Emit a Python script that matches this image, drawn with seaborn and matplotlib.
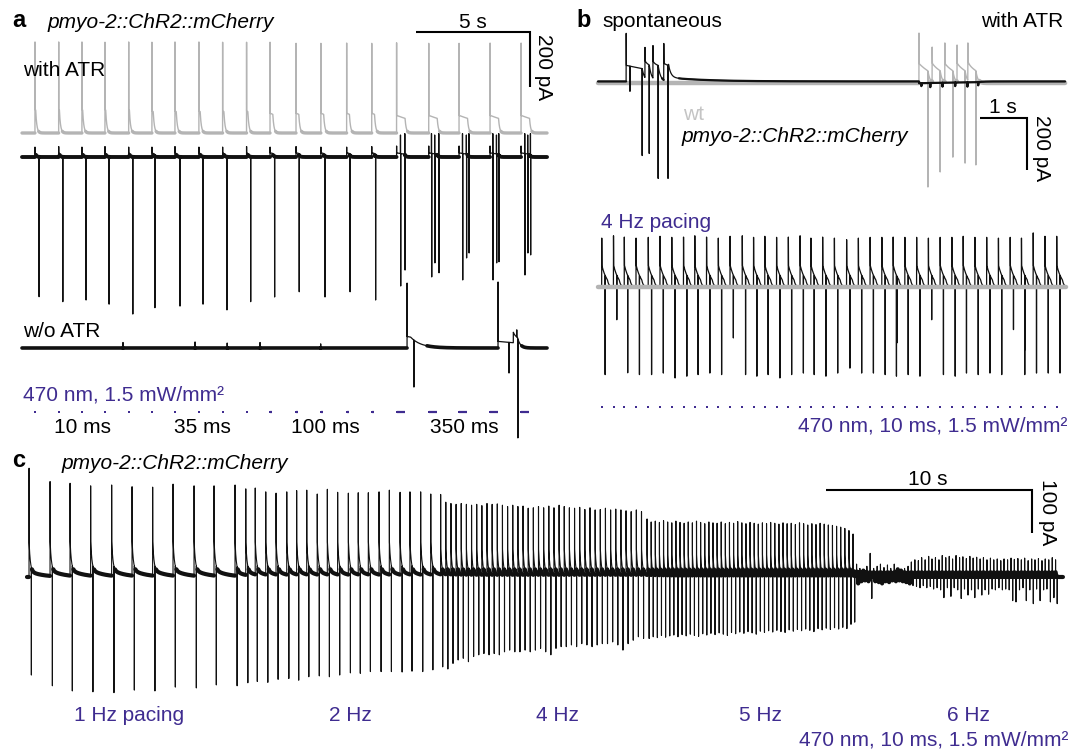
import numpy as np
import matplotlib
matplotlib.use("Agg")
import matplotlib.pyplot as plt
import seaborn as sns

sns.set_theme(style="white")
plt.rcParams["font.family"] = ["Liberation Sans", "DejaVu Sans"]
plt.rcParams["text.color"] = "black"

W, H = 1084, 750
PURPLE = "#3f2c90"
GRAY = "#b4b4b4"
INK = "#111111"
FS = 15

# =================== DATA (time in s, current in pA) ===================
# ---- panel a: 1 Hz light pulses of increasing width ----
a_pulse_t = [0.57, 1.61, 2.63, 3.64, 4.68, 5.70, 6.71, 7.76, 8.80, 9.85,
             10.88, 12.02, 13.11, 14.24, 15.34, 16.43, 17.84, 19.17, 20.53, 21.89]
a_pulse_w = [0.01, 0.01, 0.01, 0.01, 0.01, 0.035, 0.035, 0.035, 0.035, 0.035,
             0.1, 0.1, 0.1, 0.1, 0.1, 0.35, 0.35, 0.35, 0.35, 0.35]
a_group_labels = ["10 ms", "35 ms", "100 ms", "350 ms"]
a_gray_up = [331, 331, 331, 330, 331, 330, 331, 331, 330, 330,
             330, 326, 326, 327, 326, 328, 326, 326, 327, 327]
a_gray_tail = [85, 85, 85, 85, 85, 80, 80, 80, 80, 80,
               72, 72, 72, 72, 72, 64, 64, 64, 64, 64]
a_black_blip = [36, 38, 36, 38, 36, 36, 38, 36, 36, 38,
                36, 38, 36, 36, 38, 40, 40, 40, 40, 40]
a_black_dn_t = [0.75, 1.79, 2.81, 3.82, 4.86, 5.83, 6.93, 7.94, 8.99, 10.03,
                11.08, 12.16, 13.29, 14.39, 15.51, 16.61, 16.80, 17.97, 18.11, 18.29,
                19.33, 19.50, 19.61, 20.66, 20.82, 20.92, 22.06, 22.19, 22.31]
a_black_dn_a = [-508, -526, -520, -535, -571, -548, -542, -535, -556, -526,
                -509, -490, -509, -490, -520, -469, -411, -436, -385, -421,
                -447, -367, -349, -447, -385, -381, -429, -349, -356]
a_black_up_t = [16.60, 16.79, 17.96, 18.10, 18.28, 19.32, 19.49, 19.60,
                20.65, 20.81, 20.91, 22.05, 22.18, 22.30]
a_black_up_a = [80, 85, 85, 80, 85, 85, 80, 85, 85, 80, 85, 85, 80, 85]
a_wo_up_t = [4.43, 7.59, 9.00, 10.44, 13.10, 16.89, 20.88, 21.70]
a_wo_up_a = [20, 22, 18, 20, 15, 236, 240, 66]
a_wo_dn_t = [17.19, 21.36, 21.75]
a_wo_dn_a = [-142, -91, -327]
a_wo_tail_t = [16.89, 20.88, 21.55]
a_wo_tail_a = [42, 24, 38]
a_wo_tail_d = [0.15, 0.67, 0.18]
a_wo_tail_tau = [0.45, 0.10, 0.12]
a_t_end = 23.03

# ---- panel b top: spontaneous burst (black) and light-evoked burst (gray) ----
b_black_up_t = [0.60, 1.00, 1.17, 1.40]
b_black_up_a = [185, 131, 138, 146]
b_black_dn_t = [0.68, 0.94, 1.09, 1.28, 1.49, 6.88, 7.07, 7.33, 7.60, 7.86, 8.09]
b_black_dn_a = [-38, -285, -277, -373, -373, -18, -22, -20, -18, -20, -15]
b_black_tail_t = [0.60, 1.00, 1.17, 1.40, 1.50, 6.83]
b_black_tail_a = [62, 65, 65, 65, 15, -7]
b_black_tail_d = [0.34, 0.09, 0.11, 0.09, 0.0, 1.25]
b_black_tail_tau = [0.05, 0.05, 0.05, 0.05, 0.8, 0.1]
b_black_holding = 6
b_gray_up_t = [6.83, 7.11, 7.38, 7.64, 7.87]
b_gray_up_a = [192, 138, 154, 146, 154]
b_gray_dn_t = [7.02, 7.28, 7.55, 7.81, 8.04]
b_gray_dn_a = [-400, -342, -285, -308, -315]
b_gray_tail_a = [75, 72, 72, 72, 72]
b_gray_tail_d = [0.19, 0.17, 0.17, 0.17, 0.17]
b_top_t_end = 9.94

# ---- panel b bottom: 4 Hz pacing ----
b_pace_t = [0.08, 0.33, 0.56, 0.81, 1.07, 1.32, 1.57, 1.82, 2.06, 2.31,
            2.56, 2.81, 3.07, 3.31, 3.55, 3.80, 4.05, 4.30, 4.53, 4.78,
            5.03, 5.29, 5.54, 5.79, 6.04, 6.28, 6.53, 6.78, 7.03, 7.28,
            7.53, 7.77, 8.02, 8.27, 8.52, 8.77, 9.01, 9.26, 9.51, 9.76]
b_pace_up = [188, 197, 192, 188, 191, 195, 191, 192, 197, 192,
             188, 195, 197, 191, 195, 191, 192, 197, 188, 192,
             188, 182, 188, 191, 191, 192, 191, 191, 188, 191,
             191, 195, 191, 191, 188, 191, 188, 208, 195, 195]
b_pace_dn = [-337, -343, -330, -337, -337, -331, -350, -343, -337, -331,
             -337, -343, -337, -343, -337, -350, -337, -331, -337, -343,
             -331, -312, -331, -331, -337, -343, -337, -343, -331, -337,
             -343, -331, -337, -331, -337, -331, -337, -331, -331, -331]
b_pace_dn_delay = 0.07
b_extra_dn_t = [0.40, 2.88, 6.36, 7.10, 8.84, 9.09]
b_extra_dn_a = [-126, -196, -215, -126, -164, -241]
b_bot_t_end = 9.96

# ---- panel c: 1-6 Hz pacing ----
c_labels = ["1 Hz pacing", "2 Hz", "4 Hz", "5 Hz", "6 Hz"]
c1_t = [0.10, 1.12, 2.09, 3.09, 4.11, 5.10, 6.10, 7.09, 8.11, 9.08]
c1_up = [253, 222, 218, 212, 214, 210, 209, 216, 212, 212]
c1_dn = [-228, -253, -265, -267, -269, -263, -265, -256, -258, -251]
c2_t = [10.10, 10.62, 11.08, 11.59, 12.09, 12.61, 13.09, 13.58, 14.09, 14.58,
        15.08, 15.60, 16.08, 16.57, 17.09, 17.59, 18.11, 18.59, 19.11, 19.60]
c2_up = [214, 205, 207, 198, 195, 198, 201, 202, 193, 204,
         197, 195, 196, 196, 198, 202, 197, 198, 198, 193]
c2_dn = [-253, -246, -243, -245, -238, -236, -240, -232, -230, -232,
         -228, -223, -224, -220, -220, -220, -221, -219, -220, -216]
c4_t = [20.08, 20.33, 20.58, 20.83, 21.08, 21.33, 21.58, 21.83, 22.08, 22.33,
        22.58, 22.83, 23.08, 23.33, 23.58, 23.83, 24.08, 24.33, 24.58, 24.83,
        25.08, 25.33, 25.58, 25.83, 26.08, 26.33, 26.58, 26.83, 27.08, 27.33,
        27.58, 27.83, 28.08, 28.33, 28.58, 28.83, 29.08, 29.33, 29.58, 29.83]
c4_up = [192, 174, 171, 169, 171, 169, 167, 169, 166, 171,
         169, 170, 167, 164, 167, 164, 165, 160, 161, 164,
         161, 165, 161, 167, 164, 161, 160, 162, 157, 161,
         156, 157, 160, 156, 158, 156, 154, 152, 156, 152]
c4_dn = [-209, -214, -201, -193, -189, -197, -185, -181, -178, -181,
         -178, -181, -174, -170, -174, -174, -170, -174, -170, -166,
         -174, -181, -166, -162, -162, -158, -162, -155, -158, -162,
         -158, -155, -155, -151, -158, -170, -155, -147, -139, -143]
c5_t = [30.10, 30.30, 30.50, 30.70, 30.90, 31.10, 31.30, 31.50, 31.70, 31.90,
        32.10, 32.30, 32.50, 32.70, 32.90, 33.10, 33.30, 33.50, 33.70, 33.90,
        34.10, 34.30, 34.50, 34.70, 34.90, 35.10, 35.30, 35.50, 35.70, 35.90,
        36.10, 36.30, 36.50, 36.70, 36.90, 37.10, 37.30, 37.50, 37.70, 37.90,
        38.10, 38.30, 38.50, 38.70, 38.90, 39.10, 39.30, 39.50, 39.70, 39.90]
c5_up = [135, 128, 130, 127, 131, 128, 126, 130, 127, 125,
         128, 126, 130, 127, 124, 128, 126, 125, 128, 124,
         127, 125, 129, 126, 124, 127, 125, 123, 126, 124,
         127, 125, 123, 126, 124, 125, 122, 126, 124, 121,
         124, 122, 125, 123, 121, 120, 118, 116, 113, 108]
c5_dn = [-143, -139, -141, -136, -140, -137, -135, -139, -134, -137,
         -133, -136, -138, -132, -135, -131, -134, -130, -133, -136,
         -129, -132, -128, -131, -127, -130, -133, -126, -129, -125,
         -128, -124, -127, -129, -123, -126, -122, -125, -121, -124,
         -127, -120, -123, -119, -122, -118, -121, -117, -120, -110]
c6_t = [40.10, 40.27, 40.43, 40.60, 40.77, 40.93, 41.10, 41.27, 41.43, 41.60,
        41.77, 41.93, 42.10, 42.27, 42.43, 42.60, 42.77, 42.93, 43.10, 43.27,
        43.43, 43.60, 43.77, 43.93, 44.10, 44.27, 44.43, 44.60, 44.77, 44.93,
        45.10, 45.27, 45.43, 45.60, 45.77, 45.93, 46.10, 46.27, 46.43, 46.60,
        46.77, 46.93, 47.10, 47.27, 47.43, 47.60, 47.77, 47.93, 48.10, 48.27,
        48.43, 48.60, 48.77, 48.93, 49.10, 49.27, 49.43, 49.60, 49.77, 49.93]
c6_up = [100, 30, 20, 15, 25, 55, 20, 25, 30, 22,
         28, 20, 30, 18, 15, 20, 25, 35, 40, 38,
         45, 40, 48, 42, 45, 40, 50, 45, 48, 42,
         50, 45, 47, 43, 48, 44, 46, 42, 45, 40,
         44, 40, 42, 38, 42, 40, 44, 41, 43, 40,
         44, 38, 42, 40, 43, 38, 42, 40, 45, 40]
c6_dn = [-105, -15, -10, -8, -10, -50, -10, -12, -15, -10,
         -12, -8, -10, -8, -10, -12, -15, -20, -22, -25,
         -20, -25, -22, -28, -25, -30, -48, -25, -45, -25,
         -30, -50, -28, -42, -30, -48, -28, -42, -30, -40,
         -28, -30, -25, -30, -28, -30, -55, -58, -30, -25,
         -55, -30, -62, -28, -55, -30, -28, -58, -48, -62]
c_dn_delay = [0.11, 0.10, 0.10, 0.10, 0.08]
c_fast_amp = [70, 70, 60, 50, 12]
c_fast_tau = [0.06, 0.06, 0.05, 0.04, 0.03]
c_slow_amp = [14, 10, 4, 3, 0]
c_slow_tau = [0.6, 0.5, 0.4, 0.3, 0.3]
c_t_end = 50.29


# =================== helpers ===================
def build(t_end, dt, up_t=(), up_a=(), dn_t=(), dn_a=(),
          tail_t=(), tail_a=(), tail_d=(), tail_tau=0.1, tau_on=1.0):
    t = np.arange(0.0, t_end, dt)
    y = np.zeros_like(t)
    taus = np.broadcast_to(np.asarray(tail_tau, float), (len(tail_t),))
    for ts, A, d, tb in zip(tail_t, tail_a, tail_d, taus):
        on = (t >= ts) & (t < ts + d)
        y[on] += A * np.exp(-(t[on] - ts) / tau_on)
        off = t >= ts + d
        y[off] += A * np.exp(-d / tau_on) * np.exp(-(t[off] - ts - d) / tb)
    for tt, aa in zip(up_t, up_a):
        i = min(int(np.searchsorted(t, tt)), len(t) - 1)
        y[i] = aa
    for tt, aa in zip(dn_t, dn_a):
        i = min(int(np.searchsorted(t, tt)), len(t) - 1)
        y[i] = aa
    return t, y


fig = plt.figure(figsize=(W / 100, H / 100), dpi=100)


def px_axes(left, right, top, bottom, t0_px, base_px, px_s, px_pA):
    ax = fig.add_axes([left / W, 1 - bottom / H, (right - left) / W, (bottom - top) / H])
    ax.set_xlim((left - t0_px) / px_s, (right - t0_px) / px_s)
    ax.set_ylim((base_px - bottom) / px_pA, (base_px - top) / px_pA)
    ax.set_axis_off()
    return ax


def draw_trace(ax, t, y, base, color, lw, band, band_lw, z=2):
    sns.lineplot(x=t, y=y + base, ax=ax, color=color, linewidth=lw,
                 estimator=None, sort=False, legend=False, zorder=z)
    near = np.where(np.abs(y) <= band, y + base, np.nan)
    ax.plot(t, near, color=color, linewidth=band_lw, zorder=z)


def draw_pulses(ax, times, widths, level, ms, lw):
    # every pulse gets a dot; long pulses are additionally drawn as a dash
    ax.plot(times, [level] * len(times), linestyle="none", marker="s",
            markersize=ms, markeredgewidth=0, color=PURPLE)
    for t0, w in zip(times, widths):
        if w > 0.05:
            ax.plot([t0, t0 + w], [level, level], color=PURPLE, lw=lw,
                    solid_capstyle="butt")


def scale_bar(ax, t_right, y_top, dt_s, dy_pA):
    ax.plot([t_right - dt_s, t_right, t_right], [y_top, y_top, y_top - dy_pA],
            color="black", lw=1.5, solid_joinstyle="miter", solid_capstyle="butt")


def ftext(x, y, s, **kw):
    kw.setdefault("fontsize", FS)
    kw.setdefault("va", "baseline")
    kw.setdefault("color", "black")
    fig.text(x / W, 1 - y / H, s, **kw)


# =================== panel a ===================
ax_a = px_axes(0, 560, 0, 445, t0_px=22, base_px=133, px_s=22.8, px_pA=0.275)
a_off_black, a_off_wo, a_off_light = -87.3, -781.8, -1014.5
DT = 0.002

t, y = build(a_t_end, DT, up_t=a_pulse_t, up_a=a_gray_up,
             tail_t=a_pulse_t, tail_a=a_gray_tail,
             tail_d=[w + 0.02 for w in a_pulse_w], tail_tau=0.05, tau_on=2.0)
draw_trace(ax_a, t, y, 0, GRAY, 1.0, 6, 2.4, z=2)

t, y = build(a_t_end, DT, up_t=list(a_pulse_t) + a_black_up_t,
             up_a=list(a_black_blip) + a_black_up_a,
             dn_t=a_black_dn_t, dn_a=a_black_dn_a,
             tail_t=a_pulse_t, tail_a=[15] * len(a_pulse_t), tail_d=a_pulse_w,
             tail_tau=0.05, tau_on=1.0)
draw_trace(ax_a, t, y, a_off_black, INK, 0.9, 8, 2.8, z=3)

t, y = build(a_t_end, DT, up_t=a_wo_up_t, up_a=a_wo_up_a, dn_t=a_wo_dn_t, dn_a=a_wo_dn_a,
             tail_t=a_wo_tail_t, tail_a=a_wo_tail_a, tail_d=a_wo_tail_d,
             tail_tau=a_wo_tail_tau, tau_on=3.0)
draw_trace(ax_a, t, y, a_off_wo, INK, 0.9, 8, 2.6, z=3)

draw_pulses(ax_a, a_pulse_t, a_pulse_w, a_off_light, 1.8, 1.6)
scale_bar(ax_a, 22.28, 367.3, 5, 200)

ftext(12, 27, "a", fontweight="bold", fontsize=17)
ftext(48, 28, "pmyo-2::ChR2::mCherry", fontstyle="italic")
ftext(473, 28, "5 s", ha="center")
ftext(544, 67, "200 pA", rotation=270, ha="center", va="center")
ftext(23, 76, "with ATR")
ftext(23, 337, "w/o ATR")
ftext(23, 401, "470 nm, 1.5 mW/mm²", color=PURPLE)
for lab, x in zip(a_group_labels, [83, 202, 325, 464]):
    ftext(x, 433, lab, ha="center")

# =================== panel b ===================
ax_b = px_axes(575, 1084, 25, 450, t0_px=598, base_px=83, px_s=47, px_pA=0.26)
b_off_bottom, b_off_light = -784.6, -1246

t, y = build(b_top_t_end, DT, up_t=b_gray_up_t, up_a=b_gray_up_a,
             dn_t=b_gray_dn_t, dn_a=b_gray_dn_a,
             tail_t=b_gray_up_t, tail_a=b_gray_tail_a, tail_d=b_gray_tail_d,
             tail_tau=0.04, tau_on=0.4)
draw_trace(ax_b, t, y, 0, GRAY, 1.0, 8, 3.2, z=2)

t, y = build(b_top_t_end, DT, up_t=b_black_up_t, up_a=b_black_up_a,
             dn_t=b_black_dn_t, dn_a=b_black_dn_a,
             tail_t=b_black_tail_t, tail_a=b_black_tail_a, tail_d=b_black_tail_d,
             tail_tau=b_black_tail_tau, tau_on=1.5)
draw_trace(ax_b, t, y + b_black_holding, 0, INK, 0.9, 12 + b_black_holding, 1.6, z=3)

t, y = build(b_bot_t_end, DT, up_t=b_pace_t, up_a=b_pace_up,
             dn_t=[p + b_pace_dn_delay for p in b_pace_t] + b_extra_dn_t,
             dn_a=list(b_pace_dn) + b_extra_dn_a,
             tail_t=b_pace_t, tail_a=[85] * len(b_pace_t), tail_d=[0.12] * len(b_pace_t),
             tail_tau=0.03, tau_on=0.11)
draw_trace(ax_b, t, y, b_off_bottom, INK, 0.9, 4, 1.6, z=2)

t, y = build(b_bot_t_end, DT)
draw_trace(ax_b, t, y, b_off_bottom, GRAY, 1.0, 8, 3.2, z=3)

draw_pulses(ax_b, b_pace_t, [0.01] * len(b_pace_t), b_off_light, 1.6, 1.3)
scale_bar(ax_b, 9.13, -134.6, 1, 200)

ftext(576, 27, "b", fontweight="bold", fontsize=17)
ftext(602, 27, "spontaneous")
ftext(1063, 27, "with ATR", ha="right")
ftext(683, 120, "wt", color="#c4c4c4")
ftext(682, 142, "pmyo-2::ChR2::mCherry", fontstyle="italic")
ftext(1003, 113, "1 s", ha="center")
ftext(1042, 148, "200 pA", rotation=270, ha="center", va="center")
ftext(601, 228, "4 Hz pacing", color=PURPLE)
ftext(1067, 432, "470 nm, 10 ms, 1.5 mW/mm²", color=PURPLE, ha="right")

# =================== panel c ===================
ax_c = px_axes(0, 1084, 455, 705, t0_px=27, base_px=577, px_s=20.6, px_pA=0.43)
sections = [(c1_t, c1_up, c1_dn), (c2_t, c2_up, c2_dn), (c4_t, c4_up, c4_dn),
            (c5_t, c5_up, c5_dn), (c6_t, c6_up, c6_dn)]
up_t, up_a, dn_t, dn_a, tl_t, tl_a, tl_d, tl_tau = [], [], [], [], [], [], [], []
for k, (ts, ups, dns) in enumerate(sections):
    up_t += ts
    up_a += ups
    dn_t += [p + c_dn_delay[k] for p in ts]
    dn_a += dns
    for p in ts:
        tl_t += [p, p]
        tl_a += [c_fast_amp[k], c_slow_amp[k]]
        tl_d += [0.0, 0.0]
        tl_tau += [c_fast_tau[k], c_slow_tau[k]]
t, y = build(c_t_end, DT, up_t=up_t, up_a=up_a, dn_t=dn_t, dn_a=dn_a,
             tail_t=tl_t, tail_a=tl_a, tail_d=tl_d, tail_tau=tl_tau)
draw_trace(ax_c, t, y, 0, INK, 0.8, 18, 3.0, z=2)
scale_bar(ax_c, 48.79, 202.3, 10, 100)

ftext(12, 467, "c", fontweight="bold", fontsize=17)
ftext(62, 469, "pmyo-2::ChR2::mCherry", fontstyle="italic")
ftext(928, 485, "10 s", ha="center")
ftext(1047, 512, "100 pA", rotation=270, ha="center", va="center")
for lab, x in zip(c_labels, [129, 350, 557, 760, 968]):
    ftext(x, 721, lab, ha="center", color=PURPLE)
ftext(1068, 745, "470 nm, 10 ms, 1.5 mW/mm²", color=PURPLE, ha="right")

fig.savefig("out.png", dpi=100)
